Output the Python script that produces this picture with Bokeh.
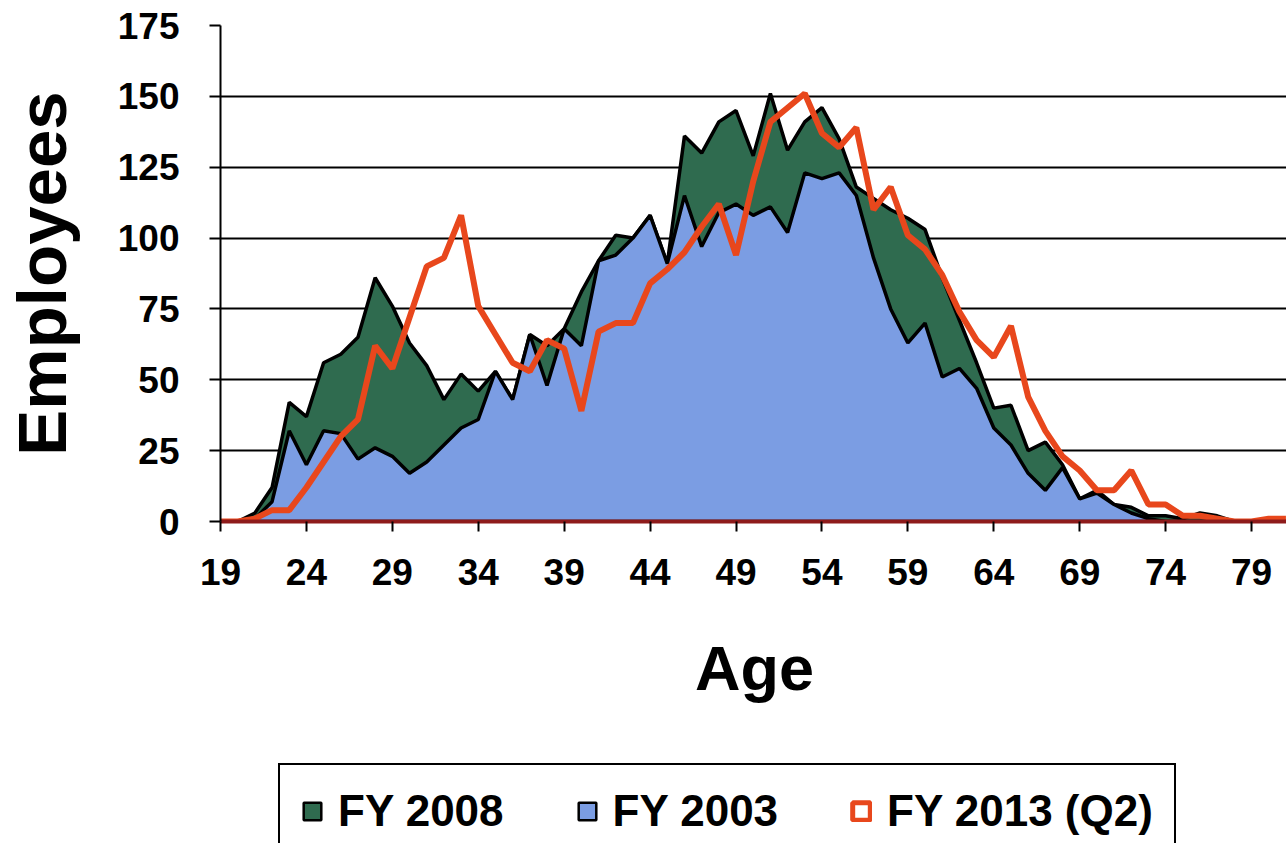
from bokeh.plotting import figure
from bokeh.models import Range1d, FixedTicker, Legend, LegendItem
from bokeh.layouts import column
from bokeh.embed import file_html
from bokeh.resources import INLINE

# ---- data -------------------------------------------------------------
ages = list(range(19, 82))

fy2008 = [0, 0, 3, 12, 42, 37, 56, 59, 65, 86,
          76, 63, 55, 43, 52, 46, 53, 43, 66, 62,
          68, 81, 92, 101, 100, 108, 91, 136, 130, 141,
          145, 129, 151, 131, 141, 146, 135, 118, 114, 110,
          107, 103, 86, 71, 56, 40, 41, 25, 28, 20,
          8, 11, 6, 5, 2, 2, 1, 3, 2, 0,
          0, 1, 0]

fy2003 = [0, 0, 1, 7, 32, 20, 32, 31, 22, 26,
          23, 17, 21, 27, 33, 36, 53, 43, 66, 48,
          68, 62, 92, 94, 100, 108, 91, 115, 97, 109,
          112, 108, 111, 102, 123, 121, 123, 115, 93, 75,
          63, 70, 51, 54, 47, 33, 27, 17, 11, 19,
          8, 10, 6, 3, 1, 0, 0, 0, 0, 0,
          0, 0, 0]

fy2013 = [0, 0, 1, 4, 4, 12, 21, 30, 36, 62,
          54, 72, 90, 93, 108, 76, 66, 56, 53, 64,
          61, 39, 67, 70, 70, 84, 89, 95, 104, 112,
          94, 120, 141, 146, 151, 137, 132, 139, 110, 118,
          101, 96, 87, 74, 64, 58, 69, 44, 32, 23,
          18, 11, 11, 18, 6, 6, 2, 2, 1, 0,
          0, 1, 1]

series_names = ["FY 2008", "FY 2003", "FY 2013 (Q2)"]
tick_ages = [19, 24, 29, 34, 39, 44, 49, 54, 59, 64, 69, 74, 79]
tick_labels = ["19", "24", "29", "34", "39", "44", "49", "54", "59", "64", "69", "74", "79"]
y_ticks = [0, 25, 50, 75, 100, 125, 150, 175]

# ---- style ------------------------------------------------------------
FONT = "Liberation Sans"
GREEN = "#2F6B4F"
BLUE = "#7B9DE3"
RED = "#E8471C"

def closed(vals):
    return ages + [ages[-1], ages[0]], vals + [0, 0]

# ---- main chart -------------------------------------------------------
p = figure(
    frame_width=1068, frame_height=496,
    x_range=Range1d(19, 81.15), y_range=Range1d(0, 175),
    output_backend="svg", toolbar_location=None,
    min_border_left=218, min_border_top=25, min_border_right=0, min_border_bottom=0,
    background_fill_color="white", border_fill_color="white",
)
p.outline_line_color = None
p.xgrid.grid_line_color = None
p.ygrid.grid_line_color = "black"
p.ygrid.grid_line_width = 2
p.ygrid.ticker = FixedTicker(ticks=y_ticks)

gx, gy = closed(fy2008)
bx, by = closed(fy2003)
p.patch(gx, gy, fill_color=GREEN, line_color="black", line_width=3.5)
p.patch(bx, by, fill_color=BLUE, line_color="black", line_width=3.5)
p.line(ages, fy2013, line_color=RED, line_width=6)

p.xaxis.ticker = FixedTicker(ticks=tick_ages)
p.xaxis.major_label_overrides = {a: l for a, l in zip(tick_ages, tick_labels)}
p.xaxis.axis_line_color = "#8E1B1B"
p.xaxis.axis_line_width = 4
p.xaxis.major_tick_out = 10
p.xaxis.major_tick_in = 0
p.xaxis.major_tick_line_width = 2
p.xaxis.minor_tick_line_color = None
p.xaxis.major_label_standoff = 27
p.xaxis.axis_label = "Age"
p.xaxis.axis_label_standoff = 45

p.yaxis.ticker = FixedTicker(ticks=y_ticks)
p.yaxis.axis_line_color = "black"
p.yaxis.axis_line_width = 2
p.yaxis.major_tick_out = 11
p.yaxis.major_tick_in = 0
p.yaxis.major_tick_line_width = 2
p.yaxis.minor_tick_line_color = None
p.yaxis.major_label_standoff = 30
p.yaxis.axis_label = "Employees"
p.yaxis.axis_label_standoff = 34

for ax in (p.xaxis, p.yaxis):
    ax.major_label_text_font = FONT
    ax.major_label_text_font_style = "bold"
    ax.major_label_text_font_size = "37px"
    ax.major_label_text_color = "black"
    ax.axis_label_text_font = FONT
    ax.axis_label_text_font_style = "bold"
    ax.axis_label_text_color = "black"
p.xaxis.axis_label_text_font_size = "63px"
p.yaxis.axis_label_text_font_size = "69px"

# ---- legend strip (same series, hidden marks, legend only) --------------
q = figure(
    width=1286, height=140,
    x_range=Range1d(19, 81.15), y_range=Range1d(0, 175),
    x_axis_type=None, y_axis_type=None,
    output_backend="svg", toolbar_location=None,
    min_border=0, background_fill_color="white", border_fill_color="white",
)
q.outline_line_color = None
q.grid.visible = False
k_green = q.patch(gx, gy, fill_color=GREEN, line_color="black", line_width=2.5, visible=False)
k_blue = q.patch(bx, by, fill_color=BLUE, line_color="black", line_width=2.5, visible=False)
rx, ry = closed(fy2013)
k_red = q.patch(rx, ry, fill_color=None, line_color=RED, line_width=5, visible=False)

legend = Legend(
    items=[
        LegendItem(label=series_names[0], renderers=[k_green]),
        LegendItem(label=series_names[1], renderers=[k_blue]),
        LegendItem(label=series_names[2], renderers=[k_red]),
    ],
    orientation="horizontal",
    location=(58, -14),
    label_text_font=FONT,
    label_text_font_style="bold",
    label_text_font_size="44px",
    label_text_color="black",
    glyph_width=22, glyph_height=22,
    label_standoff=15,
    spacing=72,
    padding=21,
    margin=0,
    border_line_color="black",
    border_line_width=2.5,
    border_line_alpha=1.0,
    background_fill_color="white",
    background_fill_alpha=1.0,
    inactive_fill_alpha=0.0,
)
q.add_layout(legend, "center")

open("out.html", "w").write(file_html(column(p, q, spacing=0), INLINE))
